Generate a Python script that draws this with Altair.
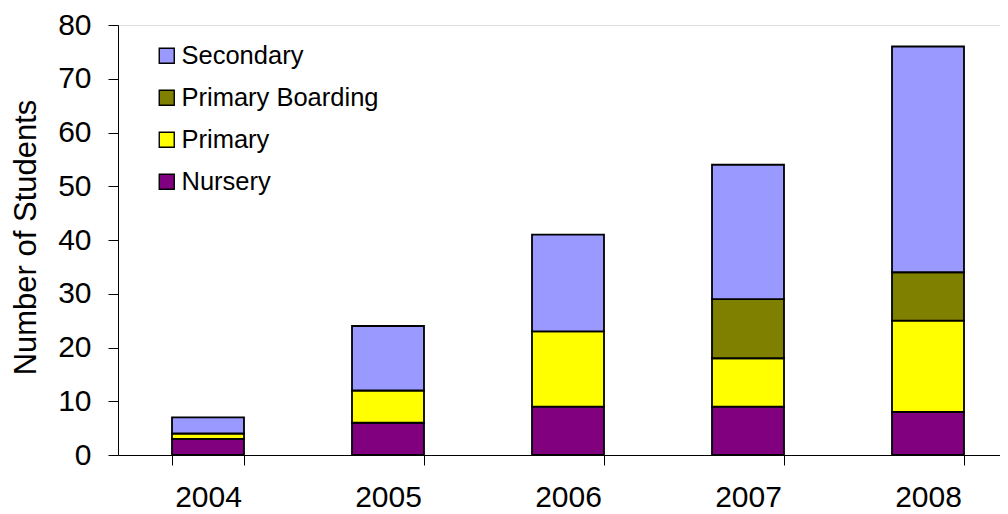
import altair as alt
import pandas as pd

years = ["2004", "2005", "2006", "2007", "2008"]
nursery = [3, 6, 9, 9, 8]
primary = [1, 6, 14, 9, 17]
primary_boarding = [0, 0, 0, 11, 9]
secondary = [3, 12, 18, 25, 42]

series_names = ["Nursery", "Primary", "Primary Boarding", "Secondary"]
series_values = [nursery, primary, primary_boarding, secondary]
legend_order = ["Secondary", "Primary Boarding", "Primary", "Nursery"]
legend_colors = ["#9999FF", "#808000", "#FFFF00", "#800080"]

rows = []
for rank, (name, vals) in enumerate(zip(series_names, series_values)):
    for yr, v in zip(years, vals):
        if v > 0:
            rows.append({"year": yr, "series": name, "count": v, "rank": rank})
df = pd.DataFrame(rows)

FONT = "Liberation Sans"

chart = alt.Chart(df).mark_bar(stroke="black", strokeWidth=1.8).encode(
    x=alt.X(
        "year:N",
        sort=years,
        scale=alt.Scale(paddingInner=0.6, paddingOuter=0.25, align=0.6),
        axis=alt.Axis(
            title=None, labelAngle=0, tickBand="extent", tickSize=10,
            labelPadding=41, labelFontSize=30, labelFont=FONT, labelColor="black",
            domainColor="black", tickColor="black", domainWidth=1, tickWidth=1,
            grid=False, labelBaseline="alphabetic",
        ),
    ),
    y=alt.Y(
        "count:Q",
        stack="zero",
        scale=alt.Scale(domain=[0, 80], nice=False),
        axis=alt.Axis(
            values=list(range(0, 81, 10)), title="Number of Students",
            titleFont=FONT, titleFontSize=31, titleFontWeight="normal", titleColor="black",
            titleX=-83, titleY=212, titleAngle=-90, titleAlign="center", titleBaseline="alphabetic",
            labelFontSize=30, labelFont=FONT, labelColor="black", labelPadding=17,
            tickSize=10, domainColor="black", tickColor="black", grid=False,
        ),
    ),
    color=alt.Color(
        "series:N",
        scale=alt.Scale(domain=legend_order, range=legend_colors),
        legend=alt.Legend(
            title=None, orient="none", legendX=36, legendY=18,
            symbolType="square", symbolSize=225, symbolStrokeColor="black",
            symbolStrokeWidth=1.4, symbolOpacity=1,
            labelFont=FONT, labelFontSize=25.5, labelColor="black", labelOffset=2,
            rowPadding=15, padding=0, labelLimit=400,
        ),
    ),
    order=alt.Order("rank:Q", sort="ascending"),
).properties(
    width=882, height=430,
    autosize=alt.AutoSizeParams(type="none"),
    padding={"left": 110, "top": 17, "right": 0, "bottom": 59},
).configure_view(stroke=None).configure(background="white")

chart.save("out.html", embed_options={"renderer": "svg", "actions": False})
